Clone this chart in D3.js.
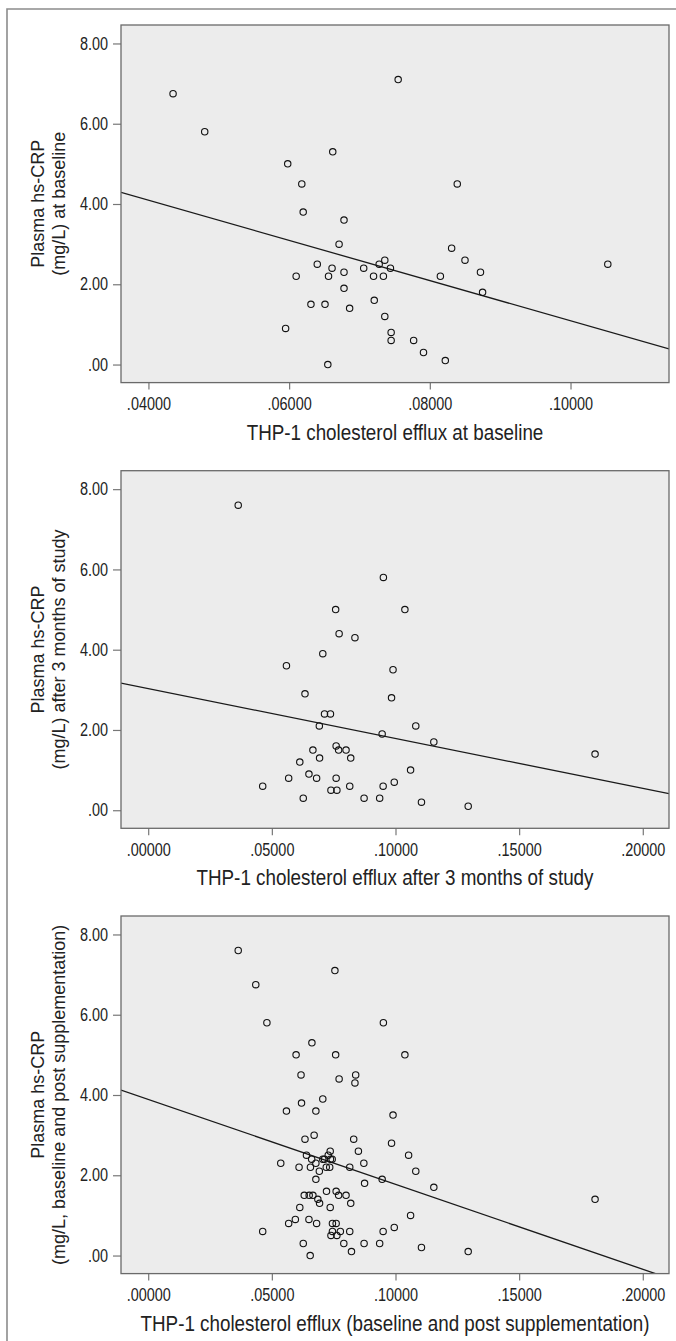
<!DOCTYPE html>
<html>
<head>
<meta charset="utf-8">
<script src="https://cdn.jsdelivr.net/npm/d3@7"></script>
<style>
  html, body { margin: 0; padding: 0; background: #fff; }
  svg { display: block; }
</style>
</head>
<body>
<svg id="chart" width="676" height="1341"></svg>
<script>
// ---------- data ----------
// Panel 1: baseline
const p1X = [0.0435, 0.0480, 0.0755, 0.0598, 0.0662, 0.0618, 0.0839, 0.0620, 0.0678, 0.0671,
             0.0831, 0.0640, 0.0661, 0.0678, 0.0706, 0.0728, 0.0736, 0.0744, 0.0850, 0.0872,
             0.1053, 0.0610, 0.0656, 0.0720, 0.0734, 0.0815, 0.0678, 0.0875, 0.0631, 0.0651,
             0.0721, 0.0686, 0.0736, 0.0595, 0.0745, 0.0745, 0.0777, 0.0791, 0.0822, 0.0655];
const p1Y = [6.75, 5.8, 7.1, 5.0, 5.3, 4.5, 4.5, 3.8, 3.6, 3.0,
             2.9, 2.5, 2.4, 2.3, 2.4, 2.5, 2.6, 2.4, 2.6, 2.3,
             2.5, 2.2, 2.2, 2.2, 2.2, 2.2, 1.9, 1.8, 1.5, 1.5,
             1.6, 1.4, 1.2, 0.9, 0.8, 0.6, 0.6, 0.3, 0.1, 0.0];
// Panel 2: after 3 months
const p2X = [0.0364, 0.0951, 0.0758, 0.1038, 0.0772, 0.0836, 0.0706, 0.0559, 0.0990, 0.0634,
             0.0984, 0.0713, 0.0737, 0.0692, 0.1082, 0.0946, 0.1155, 0.1807, 0.0760, 0.0666,
             0.0770, 0.0800, 0.0693, 0.0819, 0.0613, 0.1061, 0.0568, 0.0650, 0.0681, 0.0760,
             0.0463, 0.0815, 0.0950, 0.0995, 0.0739, 0.0763, 0.0627, 0.0873, 0.0936, 0.1105,
             0.1294];
const p2Y = [7.6, 5.8, 5.0, 5.0, 4.4, 4.3, 3.9, 3.6, 3.5, 2.9,
             2.8, 2.4, 2.4, 2.1, 2.1, 1.9, 1.7, 1.4, 1.6, 1.5,
             1.5, 1.5, 1.3, 1.3, 1.2, 1.0, 0.8, 0.9, 0.8, 0.8,
             0.6, 0.6, 0.6, 0.7, 0.5, 0.5, 0.3, 0.3, 0.3, 0.2,
             0.1];
// Panel 3: pooled (baseline + post) plus one point only seen there
const p3ExtraX = [0.0536];
const p3ExtraY = [2.3];
const p3X = p1X.concat(p2X, p3ExtraX);
const p3Y = p1Y.concat(p2Y, p3ExtraY);

// fitted regression lines (intercept, slope)
const fitIntercepts = [6.10, 3.03, 3.89];
const fitSlopes = [-50.1, -12.42, -21.16];

// axes
const yTicks = [0, 2, 4, 6, 8];
const xTicksP1 = [0.04, 0.06, 0.08, 0.10];
const xTicksP23 = [0.00, 0.05, 0.10, 0.15, 0.20];
const xDomainP1 = [0.0361, 0.1140];
const xDomainP23 = [-0.0110, 0.2106];
const yDomain = [-0.45, 8.46];

const xTitles = [
  "THP-1 cholesterol efflux at baseline",
  "THP-1 cholesterol efflux after 3 months of study",
  "THP-1 cholesterol efflux (baseline and post supplementation)"
];
const yTitles1 = ["Plasma hs-CRP", "Plasma hs-CRP", "Plasma hs-CRP"];
const yTitles2 = [
  "(mg/L) at baseline",
  "(mg/L) after 3 months of study",
  "(mg/L, baseline and post supplementation)"
];

// ---------- drawing ----------
const svg = d3.select("#chart");
const fontFam = "'Liberation Sans', Arial, Helvetica, sans-serif";

function condense(factor) {
  return sel => sel.each(function () {
    const w = this.getComputedTextLength();
    d3.select(this).attr("textLength", (w * factor).toFixed(2))
      .attr("lengthAdjust", "spacingAndGlyphs");
  });
}

// outer frame (left & top edges)
svg.append("path")
  .attr("d", "M7,1341 V9 H676")
  .attr("fill", "none")
  .attr("stroke", "#8c8c8c")
  .attr("stroke-width", 1.6);

const plotLeft = 121, plotRight = 669, plotH = 357.6;
const panelTops = [25, 470.7, 916];

const panels = [
  {xs: p1X, ys: p1Y, xDomain: xDomainP1, xTicks: xTicksP1},
  {xs: p2X, ys: p2Y, xDomain: xDomainP23, xTicks: xTicksP23},
  {xs: p3X, ys: p3Y, xDomain: xDomainP23, xTicks: xTicksP23}
];

const fmtX = v => d3.format(".5f")(v).replace(/^0\./, ".");
const fmtY = v => d3.format(".2f")(v).replace(/^0\./, ".");

panels.forEach((p, i) => {
  const top = panelTops[i], bottom = top + plotH;
  const x = d3.scaleLinear().domain(p.xDomain).range([plotLeft, plotRight]);
  const y = d3.scaleLinear().domain(yDomain).range([bottom, top]);
  const g = svg.append("g");

  const clipId = "clip" + i;
  svg.append("defs").append("clipPath").attr("id", clipId)
    .append("rect").attr("x", plotLeft).attr("y", top)
    .attr("width", plotRight - plotLeft).attr("height", plotH);

  g.append("rect")
    .attr("x", plotLeft).attr("y", top)
    .attr("width", plotRight - plotLeft).attr("height", plotH)
    .attr("fill", "#ececec");

  // y axis
  const ya = g.append("g").attr("transform", `translate(${plotLeft},0)`)
    .call(d3.axisLeft(y).tickValues(yTicks).tickFormat(fmtY).tickSize(8).tickPadding(5));
  ya.select(".domain").remove();
  ya.selectAll(".tick line").attr("stroke", "#777").attr("stroke-width", 1.2);
  ya.selectAll(".tick text").attr("fill", "#222")
    .style("font-family", fontFam).style("font-size", "17.6px")
    .call(condense(0.82));

  // x axis
  const xa = g.append("g").attr("transform", `translate(0,${bottom})`)
    .call(d3.axisBottom(x).tickValues(p.xTicks).tickFormat(fmtX).tickSize(7).tickPadding(8));
  xa.select(".domain").remove();
  xa.selectAll(".tick line").attr("stroke", "#777").attr("stroke-width", 1.2);
  xa.selectAll(".tick text").attr("fill", "#222")
    .style("font-family", fontFam).style("font-size", "17.6px")
    .call(condense(0.82));

  // regression line
  const fx = p.xDomain;
  g.append("line")
    .attr("clip-path", `url(#${clipId})`)
    .attr("x1", x(fx[0])).attr("y1", y(fitIntercepts[i] + fitSlopes[i] * fx[0]))
    .attr("x2", x(fx[1])).attr("y2", y(fitIntercepts[i] + fitSlopes[i] * fx[1]))
    .attr("stroke", "#1a1a1a").attr("stroke-width", 1.3);

  // points
  g.append("g").selectAll("circle")
    .data(p.xs.map((v, k) => [v, p.ys[k]]))
    .join("circle")
    .attr("cx", d => x(d[0])).attr("cy", d => y(d[1]))
    .attr("r", 3.2)
    .attr("fill", "none")
    .attr("stroke", "#111")
    .attr("stroke-width", 1.1);

  // plot border
  g.append("rect")
    .attr("x", plotLeft).attr("y", top)
    .attr("width", plotRight - plotLeft).attr("height", plotH)
    .attr("fill", "none").attr("stroke", "#6a6a6a").attr("stroke-width", 1.3);

  // x title
  g.append("text")
    .attr("x", (plotLeft + plotRight) / 2).attr("y", bottom + 57)
    .attr("text-anchor", "middle")
    .attr("fill", "#222")
    .style("font-family", fontFam).style("font-size", "21.5px")
    .text(xTitles[i])
    .call(condense(0.875));

  // y title (two lines, rotated)
  const cy = (top + bottom) / 2;
  g.append("text")
    .attr("transform", `translate(43.5,${cy}) rotate(-90)`)
    .attr("text-anchor", "middle").attr("fill", "#222")
    .style("font-family", fontFam).style("font-size", "18px")
    .text(yTitles1[i]);
  g.append("text")
    .attr("transform", `translate(64.5,${cy}) rotate(-90)`)
    .attr("text-anchor", "middle").attr("fill", "#222")
    .style("font-family", fontFam).style("font-size", "18px")
    .text(yTitles2[i]);
});
</script>
</body>
</html>
